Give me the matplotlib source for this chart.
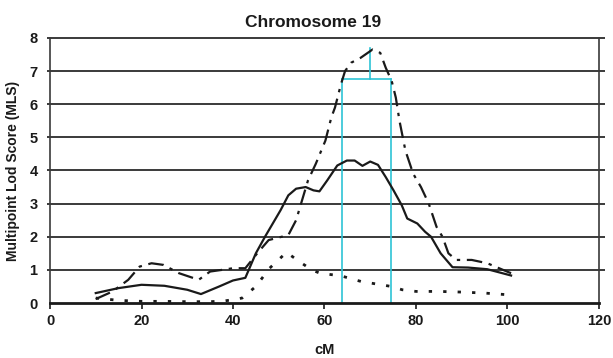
import matplotlib.pyplot as plt

# cM positions and MLS values
solid_cm = [10, 15, 20, 25, 30, 33, 37, 40, 42.7, 45, 47, 50.4, 52.1, 53.8, 55.9,
            57.6, 58.9, 60.6, 62.8, 64.9, 66.6, 68.3, 70, 71.7, 73.4, 75.1, 76.9,
            78.1, 80.3, 82, 83.3, 85.4, 88, 91.4, 95.6, 100.8]
solid_mls = [0.3, 0.45, 0.55, 0.52, 0.4, 0.27, 0.5, 0.68, 0.76, 1.5, 2.0, 2.8, 3.25,
             3.45, 3.5, 3.4, 3.37, 3.7, 4.15, 4.3, 4.3, 4.14, 4.27, 4.17, 3.8, 3.4,
             2.95, 2.55, 2.4, 2.15, 2.0, 1.5, 1.08, 1.07, 1.02, 0.83]

dashdot_cm = [10, 13.7, 17.1, 19.6, 22.2, 24.8, 28.2, 32.5, 35, 37.6, 40, 42.7, 45.3,
              47.8, 52.1, 53.8, 56.4, 58.1, 60.2, 61.5, 62.3, 63.6, 64.5, 65.8, 67.9,
              70.5, 72.2, 73.4, 74.7, 75.6, 76.4, 77.7, 79.4, 81.1, 82.8, 84.5, 85.8,
              87.1, 88.8, 92.2, 95.6, 99.9, 100.8]
dashdot_mls = [0.12, 0.35, 0.7, 1.1, 1.2, 1.15, 0.9, 0.7, 0.95, 1.0, 1.05, 1.05, 1.5,
               1.9, 2.05, 2.5, 3.7, 4.2, 4.9, 5.6, 5.9, 6.6, 7.0, 7.25, 7.4, 7.65,
               7.55, 7.1, 6.7, 6.2, 5.5, 4.6, 3.9, 3.5, 3.0, 2.3, 2.0, 1.5, 1.3, 1.3,
               1.2, 0.95, 0.9]

dotted_cm = [10, 15, 20, 25, 30, 35, 38, 40, 42, 45, 48, 51.7, 54, 57.2, 59, 63.6,
             68, 74.6, 77, 80, 85, 90, 95, 100]
dotted_mls = [0.15, 0.08, 0.05, 0.05, 0.04, 0.04, 0.06, 0.1, 0.15, 0.5, 1.05, 1.53,
              1.3, 1.0, 0.9, 0.82, 0.65, 0.5, 0.4, 0.35, 0.35, 0.33, 0.3, 0.25]

# support interval bracket (cyan)
ci_left, ci_right, ci_level = 63.8, 74.5, 6.75
peak_cm, peak_mls = 70.0, 7.7

plt.rcParams['font.family'] = ['Liberation Sans', 'DejaVu Sans']
plt.rcParams['font.weight'] = 'bold'

fig = plt.figure(figsize=(6.13, 3.58), dpi=100)
ax = fig.add_axes([0.0816, 0.1536, 0.8954, 0.7404])

# horizontal gridlines, running a little past both side lines
ax.hlines(range(1, 9), -0.7, 121.3, color='#3a3a3a', lw=1.4, zorder=1,
          clip_on=False)

cyan = '#2ec4d6'
ax.plot([ci_left, ci_left], [0, ci_level], color=cyan, lw=1.2, zorder=2)
ax.plot([ci_right, ci_right], [0, ci_level], color=cyan, lw=1.2, zorder=2)
ax.plot([ci_left, ci_right], [ci_level, ci_level], color=cyan, lw=1.2, zorder=2)
ax.plot([peak_cm, peak_cm], [ci_level, peak_mls], color=cyan, lw=1.2, zorder=2)

ax.plot(solid_cm, solid_mls, color='#1a1a1a', lw=1.6, zorder=3)
ax.plot(dashdot_cm, dashdot_mls, color='#1a1a1a', lw=1.6, zorder=3,
        dashes=(7, 3, 1.5, 3))
ax.plot(dotted_cm, dotted_mls, color='#1a1a1a', lw=2.0, zorder=3,
        dashes=(1.2, 4))

ax.set_xlim(0, 120)
ax.set_ylim(0, 8)
ax.set_xticks(range(0, 121, 20))
ax.set_yticks(range(0, 9))
ax.tick_params(axis='x', direction='out', length=4, width=1.2, labelsize=10.5,
               pad=4, colors='#1a1a1a')
ax.tick_params(axis='y', length=0, labelsize=10.5, pad=9, colors='#1a1a1a')

ax.spines['top'].set_visible(False)
ax.spines['bottom'].set_linewidth(2)
ax.spines['bottom'].set_color('#1a1a1a')
ax.spines['left'].set_color('#3a3a3a')
ax.spines['left'].set_linewidth(1.2)
ax.spines['right'].set_color('#3a3a3a')
ax.spines['right'].set_linewidth(1.2)

ax.set_title('Chromosome 19', fontsize=12.5, fontweight='bold', pad=8,
             x=0.479, color='#1a1a1a')
ax.set_xlabel('cM', fontsize=10.5, fontweight='bold', labelpad=11,
              color='#1a1a1a')
ax.set_ylabel('Multipoint Lod Score (MLS)', fontsize=10, fontweight='bold',
              labelpad=7, color='#1a1a1a')

fig.savefig('out.png', dpi=100)
